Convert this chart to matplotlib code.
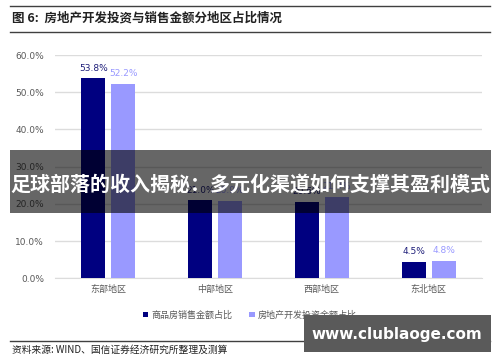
import matplotlib.pyplot as plt
import numpy as np
from matplotlib.patches import Rectangle

plt.rcParams['font.family'] = ['Noto Sans CJK SC', 'DejaVu Sans']

regions = ['东部地区', '中部地区', '西部地区', '东北地区']
sales_share = [53.8, 21.0, 20.6, 4.5]     # 商品房销售金额占比
invest_share = [52.2, 20.9, 21.9, 4.8]    # 房地产开发投资金额占比
yticks = [0, 10, 20, 30, 40, 50, 60]

dark = '#000080'
light = '#9999ff'

fig = plt.figure(figsize=(5, 3.62), dpi=100)
ax = fig.add_axes([0.11, 0.231, 0.854, 0.617])

x = np.arange(len(regions))
w = 0.225
b1 = ax.bar(x - 0.14, sales_share, w, color=dark, zorder=3, label='商品房销售金额占比')
b2 = ax.bar(x + 0.14, invest_share, w, color=light, zorder=3, label='房地产开发投资金额占比')

for rect, v in zip(b1, sales_share):
    ax.text(rect.get_x() + rect.get_width() / 2, v + 1.5, f'{v:.1f}%',
            ha='center', va='bottom', fontsize=6.5, color='#1f1f7a', family='DejaVu Sans')
for rect, v in zip(b2, invest_share):
    ax.text(rect.get_x() + rect.get_width() / 2, v + 1.5, f'{v:.1f}%',
            ha='center', va='bottom', fontsize=6.5, color=light, family='DejaVu Sans')

ax.set_xlim(-0.5, 3.5)
ax.set_ylim(0, 60)
ax.set_yticks(yticks)
ax.set_yticklabels([f'{t:.1f}%' for t in yticks], family='DejaVu Sans')
ax.set_xticks(x)
ax.set_xticklabels(regions)
ax.tick_params(axis='y', length=0, labelsize=6.5, labelcolor='#595959', pad=8)
ax.tick_params(axis='x', length=0, labelsize=6.5, labelcolor='#595959', pad=5)
ax.grid(axis='y', color='#dcdcdc', lw=1, zorder=0)
for s in ['top', 'right', 'left']:
    ax.spines[s].set_visible(False)
ax.spines['bottom'].set_color('#dcdcdc')

leg = fig.legend(handles=[b1, b2], loc='center', bbox_to_anchor=(0.5, 1 - 315 / 362),
                 ncol=2, frameon=False, fontsize=6.5, handlelength=0.6, handleheight=0.6,
                 columnspacing=1.8, handletextpad=0.4)
for t in leg.get_texts():
    t.set_color('#595959')

# header / footer
fig.add_artist(plt.Line2D([0.02, 0.98], [1 - 6 / 362] * 2, color='#404040', lw=1))
fig.add_artist(plt.Line2D([0.02, 0.98], [1 - 31.5 / 362] * 2, color='#404040', lw=1))
fig.text(0.024, 1 - 18.5 / 362, '图 6:  房地产开发投资与销售金额分地区占比情况',
         fontsize=9, fontweight='bold', color='#222222', va='center')
fig.add_artist(plt.Line2D([0.02, 0.98], [1 - 341 / 362] * 2, color='#404040', lw=1))
fig.text(0.024, 1 - 350 / 362, '资料来源: WIND、国信证券经济研究所整理及测算',
         fontsize=7, color='#222222', va='center')

# overlay banner
fig.add_artist(Rectangle((10 / 500, 1 - 213 / 362), 481 / 500, 63 / 362,
                         transform=fig.transFigure, color='black', alpha=0.6, lw=0, zorder=10))
fig.text(0.5, 1 - 184 / 362, '足球部落的收入揭秘：多元化渠道如何支撑其盈利模式',
         fontsize=14.4, fontweight='bold', color='white', ha='center', va='center', zorder=11)

# watermark box
fig.add_artist(Rectangle((304 / 500, 1 - 352 / 362), 187 / 500, 37 / 362,
                         transform=fig.transFigure, color='#5a5a5a', lw=0, zorder=10))
fig.text(397 / 500, 1 - 334 / 362, 'www.clublaoge.com', family='DejaVu Sans',
         fontsize=11, fontweight='bold', color='white', ha='center', va='center', zorder=11)

fig.savefig('out.png', dpi=100)
